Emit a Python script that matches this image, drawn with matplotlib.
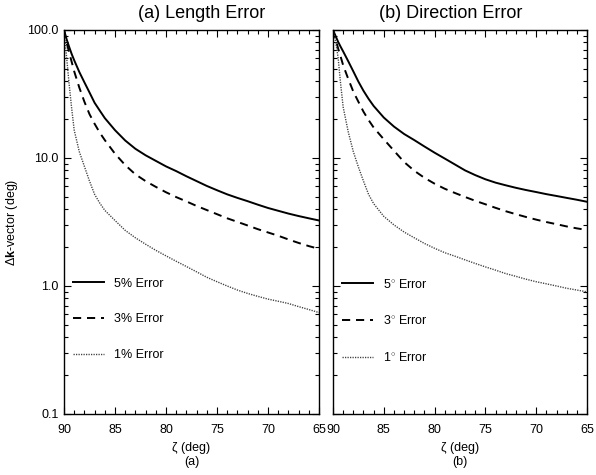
import numpy as np
import matplotlib
matplotlib.use("Agg")
import matplotlib.pyplot as plt
from matplotlib.ticker import FixedLocator, MultipleLocator, LogLocator, NullFormatter, FixedFormatter

plt.rcParams['font.family'] = ['Liberation Sans', 'DejaVu Sans']
plt.rcParams['mathtext.fontset'] = 'custom'
plt.rcParams['mathtext.rm'] = 'Liberation Sans'
plt.rcParams['mathtext.bf'] = 'Liberation Sans:bold'
plt.rcParams['mathtext.it'] = 'Liberation Sans:italic'

# ---- data ----
zeta = [90, 89.75, 89.5, 89.25, 89, 88.5, 88, 87.5, 87, 86.5, 86, 85, 84, 83, 82, 81, 80,
        79, 78, 77, 76, 75, 74, 73, 72, 71, 70, 69, 68, 67, 66, 65]

len_5 = [100, 85, 74, 65, 58, 47, 39, 32.5, 27, 23.5, 20.5, 16.5, 13.7, 11.8, 10.5, 9.5, 8.6,
         7.9, 7.2, 6.6, 6.05, 5.6, 5.2, 4.88, 4.6, 4.32, 4.07, 3.87, 3.68, 3.52, 3.38, 3.25]
len_3 = [100, 80, 67, 56.5, 47.5, 35.5, 27.5, 22, 18.5, 15.8, 13.8, 10.8, 8.8, 7.45, 6.6, 5.95, 5.4,
         4.95, 4.58, 4.22, 3.92, 3.64, 3.38, 3.17, 2.97, 2.78, 2.62, 2.47, 2.31, 2.17, 2.05, 1.95]
len_1 = [100, 62, 38, 24.5, 16.5, 11.2, 8.6, 6.6, 5.2, 4.45, 3.9, 3.25, 2.72, 2.38, 2.12, 1.9, 1.72,
         1.56, 1.42, 1.29, 1.17, 1.08, 1.0, 0.93, 0.875, 0.83, 0.79, 0.76, 0.73, 0.69, 0.655, 0.62]

dir_5 = [100, 90, 81, 74, 68, 57, 47.5, 39.5, 33.5, 29, 25.5, 20.7, 17.6, 15.4, 13.8, 12.3, 11.0,
         9.9, 8.9, 8.0, 7.35, 6.82, 6.42, 6.12, 5.85, 5.62, 5.42, 5.22, 5.05, 4.88, 4.72, 4.55]
dir_3 = [100, 85, 72, 62, 53, 41.5, 33, 27.5, 23, 19.8, 17.3, 14.0, 11.4, 9.3, 7.95, 7.0, 6.3,
         5.75, 5.33, 4.96, 4.63, 4.35, 4.08, 3.84, 3.64, 3.46, 3.3, 3.16, 3.04, 2.92, 2.82, 2.74]
dir_1 = [100, 82, 61, 38, 25, 16, 11.2, 8.5, 6.6, 5.2, 4.4, 3.5, 3.0, 2.64, 2.38, 2.15, 1.97,
         1.82, 1.71, 1.6, 1.5, 1.41, 1.33, 1.25, 1.19, 1.13, 1.08, 1.04, 1.0, 0.96, 0.93, 0.9]

titles = ["(a) Length Error", "(b) Direction Error"]
sublabels = ["(a)", "(b)"]
legend_len = ["5% Error", "3% Error", "1% Error"]
legend_dir = ["5$^{\\circ}$ Error", "3$^{\\circ}$ Error", "1$^{\\circ}$ Error"]
xticks = [90, 85, 80, 75, 70, 65]
yticks = [0.1, 1.0, 10.0, 100.0]
ytick_labels = ["0.1", "1.0", "10.0", "100.0"]

W, H = 596, 475
fig = plt.figure(figsize=(W / 100, H / 100), dpi=100)

ax_a = fig.add_axes([64 / W, 1 - 414 / H, 255 / W, 384 / H])
ax_b = fig.add_axes([333 / W, 1 - 414 / H, 254 / W, 384 / H])

styles = [
    dict(color='black', lw=1.4, linestyle='-'),
    dict(color='black', lw=1.4, linestyle=(0, (4.2, 3.0))),
    dict(color='0.25', lw=1.0, linestyle=(0, (0.9, 0.9))),
]

panels = [
    (ax_a, [len_5, len_3, len_1], legend_len, titles[0], sublabels[0], 0.539),
    (ax_b, [dir_5, dir_3, dir_1], legend_dir, titles[1], sublabels[1], 0.465),
]

for i, (ax, series, labels, title, sub, tx) in enumerate(panels):
    handles = []
    for s, lab, st in zip(series, labels, styles):
        h, = ax.plot(zeta, s, label=lab, **st)
        handles.append(h)
    ax.set_yscale('log')
    ax.set_xlim(90, 65)
    ax.set_ylim(0.1, 100)
    ax.xaxis.set_major_locator(FixedLocator(xticks))
    ax.xaxis.set_minor_locator(MultipleLocator(1))
    ax.set_xticklabels([str(t) for t in xticks])
    ax.yaxis.set_major_locator(FixedLocator(yticks))
    ax.yaxis.set_minor_locator(LogLocator(base=10, subs=np.arange(2, 10)))
    ax.yaxis.set_minor_formatter(NullFormatter())
    if i == 0:
        ax.yaxis.set_major_formatter(FixedFormatter(ytick_labels))
        ax.set_ylabel(r"$\Delta\mathbf{k}$-vector (deg)", fontsize=9, labelpad=5)
    else:
        ax.yaxis.set_major_formatter(NullFormatter())
    ax.tick_params(which='both', direction='in', top=True, right=True, labelsize=9)
    ax.tick_params(axis='x', which='both', pad=7.5)
    ax.tick_params(axis='y', which='both', pad=4)
    ax.tick_params(which='major', length=5, width=0.8)
    ax.tick_params(which='minor', length=3, width=0.8)
    for sp in ax.spines.values():
        sp.set_linewidth(1.0)
    ax.set_title(title, fontsize=13, x=tx, pad=8.5)
    ax.set_xlabel("\u03b6 (deg)\n" + sub, fontsize=9, labelpad=4, linespacing=1.25)
    leg = ax.legend(handles=handles, loc='upper left', bbox_to_anchor=(0.035, 0.355),
                    frameon=False, fontsize=9, handlelength=2.45, handletextpad=0.85,
                    labelspacing=1.9, borderaxespad=0, borderpad=0)

fig.savefig("out.png", dpi=100)
